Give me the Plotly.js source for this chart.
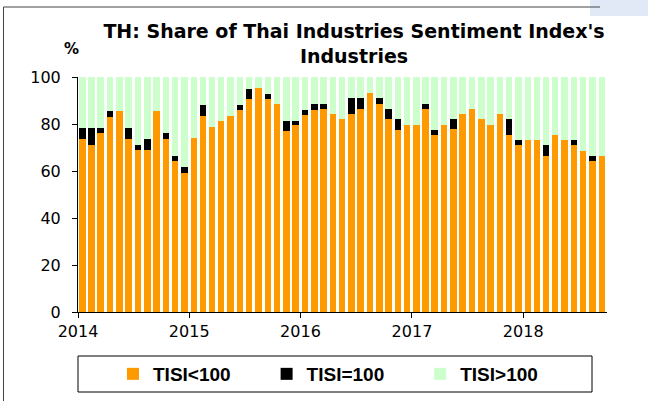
<!DOCTYPE html>
<html>
<head>
<meta charset="utf-8">
<script src="https://cdn.plot.ly/plotly-3.0.1.min.js"></script>
<style>
  html, body { margin: 0; padding: 0; background: #fff; }
  #chart { width: 648px; height: 401px; }
</style>
</head>
<body>
<div id="chart"></div>
<script>
// Months (Jan 2014 - Sep 2018)
const months = [
  "2014-01-01","2014-02-01","2014-03-01","2014-04-01","2014-05-01","2014-06-01",
  "2014-07-01","2014-08-01","2014-09-01","2014-10-01","2014-11-01","2014-12-01",
  "2015-01-01","2015-02-01","2015-03-01","2015-04-01","2015-05-01","2015-06-01",
  "2015-07-01","2015-08-01","2015-09-01","2015-10-01","2015-11-01","2015-12-01",
  "2016-01-01","2016-02-01","2016-03-01","2016-04-01","2016-05-01","2016-06-01",
  "2016-07-01","2016-08-01","2016-09-01","2016-10-01","2016-11-01","2016-12-01",
  "2017-01-01","2017-02-01","2017-03-01","2017-04-01","2017-05-01","2017-06-01",
  "2017-07-01","2017-08-01","2017-09-01","2017-10-01","2017-11-01","2017-12-01",
  "2018-01-01","2018-02-01","2018-03-01","2018-04-01","2018-05-01","2018-06-01",
  "2018-07-01","2018-08-01","2018-09-01"
];

// Share of industries with TISI < 100 (%)
const tisiBelow = [
  73.6, 71.2, 76.0, 83.1, 85.5, 73.6, 68.9, 68.9, 85.5, 73.6, 64.3, 59.3,
  74.2, 83.5, 78.7, 81.3, 83.5, 85.8, 90.5, 95.2, 90.6, 88.5, 77.2, 79.4,
  83.8, 86.1, 86.5, 84.3, 82.0, 84.3, 86.5, 93.0, 88.7, 82.0, 77.6, 79.7,
  79.7, 86.5, 75.5, 79.7, 77.7, 84.3, 86.5, 82.0, 79.7, 84.3, 75.5, 70.9,
  73.0, 73.0, 66.5, 75.3, 73.0, 70.9, 68.7, 64.3, 66.4
];

// Share of industries with TISI = 100 (%)
const tisiEqual = [
  4.8, 7.2, 2.4, 2.3, 0.0, 4.8, 2.3, 4.7, 0.0, 2.4, 2.2, 2.4,
  0.0, 4.7, 0.0, 0.0, 0.0, 2.4, 4.5, 0.0, 2.3, 0.0, 4.2, 2.0,
  2.3, 2.4, 2.2, 0.0, 0.0, 6.6, 4.4, 0.0, 2.2, 4.5, 4.4, 0.0,
  0.0, 2.2, 2.1, 0.0, 4.3, 0.0, 0.0, 0.0, 0.0, 0.0, 6.5, 2.1,
  0.0, 0.0, 4.4, 0.0, 0.0, 2.1, 0.0, 2.2, 0.0
];

// Share of industries with TISI > 100 (%)
const tisiAbove = [
  21.6, 21.6, 21.6, 14.6, 14.5, 21.6, 28.8, 26.4, 14.5, 24.0, 33.5, 38.3,
  25.8, 11.8, 21.3, 18.7, 16.5, 11.8, 5.0, 4.8, 7.1, 11.5, 18.6, 18.6,
  13.9, 11.5, 11.3, 15.7, 18.0, 9.1, 9.1, 7.0, 9.1, 13.5, 18.0, 20.3,
  20.3, 11.3, 22.4, 20.3, 18.0, 15.7, 13.5, 18.0, 20.3, 15.7, 18.0, 27.0,
  27.0, 27.0, 29.1, 24.7, 27.0, 27.0, 31.3, 33.5, 33.6
];

const seriesNames = ["TISI&lt;100", "TISI=100", "TISI&gt;100"];
const yTicks = [0, 20, 40, 60, 80, 100];

// pixel -> paper helpers for decorations
const W = 648, H = 401;
const PL = 78, PR = 607, PT = 77, PB = 312;
const px = v => (v - PL) / (PR - PL);
const py = v => (PB - v) / (PB - PT);

const common = {
  type: "bar",
  x: months,
  xperiod: "M1",
  xperiodalignment: "middle",
  hoverinfo: "skip"
};

const traces = [
  Object.assign({}, common, { y: tisiBelow, name: seriesNames[0], marker: { color: "#FF9900" } }),
  Object.assign({}, common, { y: tisiEqual, name: seriesNames[1], marker: { color: "#000000" } }),
  Object.assign({}, common, { y: tisiAbove, name: seriesNames[2], marker: { color: "#CCFFCC" } })
];

const tickFont = { family: "DejaVu Sans", size: 16, color: "#000" };

const layout = {
  width: W,
  height: H,
  margin: { l: PL, r: W - PR, t: PT, b: H - PB, pad: 0, autoexpand: false },
  paper_bgcolor: "#ffffff",
  plot_bgcolor: "#ffffff",
  barmode: "stack",
  bargap: 0.28,
  title: {
    text: "<b>TH: Share of Thai Industries Sentiment Index's<br>Industries</b>",
    font: { family: "DejaVu Sans", size: 19, color: "#000" },
    xref: "container", x: 354 / W, xanchor: "center",
    yref: "container", y: 1 - 38 / H, yanchor: "top"
  },
  xaxis: {
    type: "date",
    range: ["2014-01-01", "2018-10-03"],
    tickmode: "linear",
    tick0: "2014-01-01",
    dtick: "M12",
    tickformat: "%Y",
    ticks: "outside",
    ticklen: 5,
    tickcolor: "#000",
    showline: true,
    linecolor: "#000",
    linewidth: 1,
    showgrid: false,
    zeroline: false,
    tickfont: tickFont,
    fixedrange: true
  },
  yaxis: {
    range: [0, 100],
    tickmode: "array",
    tickvals: yTicks,
    ticktext: yTicks.map(String),
    ticks: "outside",
    ticklen: 5,
    tickcolor: "#000",
    showline: true,
    linecolor: "#000",
    linewidth: 1,
    showgrid: false,
    zeroline: false,
    tickfont: tickFont,
    ticklabelstandoff: 8,
    fixedrange: true
  },
  showlegend: true,
  legend: {
    orientation: "h",
    traceorder: "normal",
    xref: "container", x: 113 / W, xanchor: "left",
    yref: "container", y: 1 - 355 / H, yanchor: "top",
    font: { family: "Liberation Sans", size: 19, color: "#000", weight: "bold" },
    bgcolor: "rgba(0,0,0,0)",
    borderwidth: 0,
    entrywidth: 108.6,
    entrywidthmode: "pixels",
    itemclick: false,
    itemdoubleclick: false
  },
  annotations: [
    {
      text: "<b>%</b>",
      xref: "paper", yref: "paper",
      x: px(71), y: py(49),
      xanchor: "center", yanchor: "middle",
      showarrow: false,
      font: { family: "DejaVu Sans", size: 15, color: "#000" }
    }
  ],
  shapes: [
    // legend box
    { type: "rect", xref: "paper", yref: "paper",
      x0: px(78), x1: px(592), y0: py(392), y1: py(356),
      line: { color: "#000", width: 1 }, fillcolor: "rgba(0,0,0,0)" },
    // outer frame (left and top edges)
    { type: "line", xref: "paper", yref: "paper",
      x0: px(3.5), x1: px(3.5), y0: py(401), y1: py(7),
      line: { color: "#444", width: 1 } },
    { type: "line", xref: "paper", yref: "paper",
      x0: px(3.5), x1: px(600), y0: py(7), y1: py(7),
      line: { color: "#444", width: 1 } },
    // faint blue corner
    { type: "rect", xref: "paper", yref: "paper",
      x0: px(590), x1: px(648), y0: py(16), y1: py(0),
      line: { width: 0 }, fillcolor: "rgba(214,224,242,0.7)", layer: "below" }
  ]
};

Plotly.newPlot("chart", traces, layout, { staticPlot: true, displayModeBar: false });
</script>
</body>
</html>
